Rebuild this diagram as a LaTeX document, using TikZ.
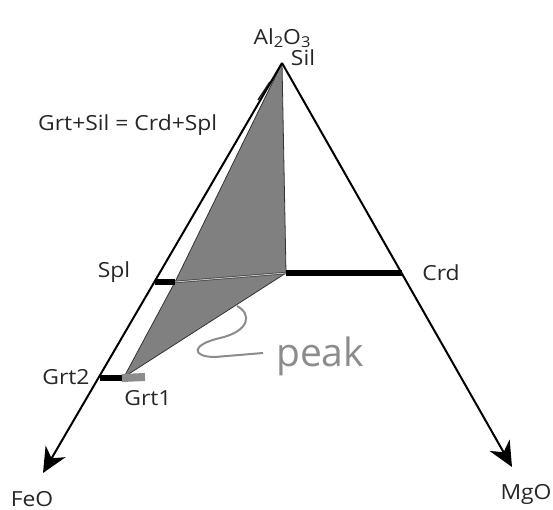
\documentclass[tikz,border=0pt]{standalone}
\usepackage{fontspec}
\setmainfont{Open Sans}
\newfontfamily\lblfont[FakeStretch=1.1]{Open Sans}
\usetikzlibrary{arrows.meta, positioning}

\begin{document}
\begin{tikzpicture}[x=1pt, y=-1pt,
    axis/.style={line width=2pt, -{Stealth[length=25pt, width=23pt, inset=8pt]}},
    bar/.style={line width=6pt},
    lbl/.style={inner sep=0pt, font=\lblfont\fontsize{20.8}{22}\selectfont, text=black!85},
    phase/.style={fill=black!50, draw=black!80, line width=0.8pt, line join=round},
    leader/.style={draw=black!45, line width=2pt}]
    \useasboundingbox (0,0) rectangle (553,510);
    % corners of the triangle
    \coordinate (sil) at (282,63);
    \coordinate (feo) at (43,473);
    \coordinate (mgo) at (512,467);
    % points on the assemblage
    \coordinate (mid) at (286,273);
    \coordinate (splend) at (175,282);
    \coordinate (splstart) at (155,282);
    \coordinate (crdend) at (402,273);
    \coordinate (grtone) at (124,377);
    \coordinate (grtstart) at (100,378);
    \coordinate (grtmid) at (122,378);
    \coordinate (grtend) at (145,377);
    % shaded field
    \draw [phase] (sil) -- (mid) -- (grtone) -- (splend) -- cycle;
    \draw [black!85, line width=1.6pt] (258,100) -- (270,82);
    \draw [line width=0.6pt, draw=black!80, double=black!25, double distance=1pt] (splend) -- (mid);
    % axes
    \draw [axis] (sil) -- (feo);
    \draw [axis] (sil) -- (mgo);
    % tie lines
    \draw [bar] (splstart) -- (splend);
    \draw [bar] (mid) -- (crdend);
    \draw [bar] (grtstart) -- (grtmid);
    \draw [bar, line width=8pt, black!45] (grtmid) -- (grtend);
    % labels
    \node [lbl] (al) at (282,38) {Al\raisebox{-0.3ex}{\fontsize{15}{16}\selectfont 2}O\raisebox{-0.3ex}{\fontsize{15}{16}\selectfont 3}};
    \node [lbl] (silt) at (303,58) {Sil};
    \node [lbl, anchor=west] (react) at (38,125) {Grt+Sil = Crd+Spl};
    \node [lbl] (splt) at (114,272) {Spl};
    \node [lbl] (crdt) at (441,273) {Crd};
    \node [lbl] (grt2t) at (66,377) {Grt2};
    \node [lbl] (grt1t) at (148,398) {Grt1};
    \node [lbl] (feot) at (32,499) {FeO};
    \node [lbl] (mgot) at (526,494) {MgO};
    \node [inner sep=0pt, anchor=west, font=\fontsize{39}{42}\selectfont, text=black!45] (peak) at (276,356) {peak};
    % leader to the peak field
    \coordinate (pk) at (237,306);
    \draw [leader] (pk) .. controls (252,314) and (250,331) .. (220,338)
        .. controls (190,345) and (192,357) .. (215,357) -- ([xshift=-13pt, yshift=3pt]peak.west);
\end{tikzpicture}
\end{document}
